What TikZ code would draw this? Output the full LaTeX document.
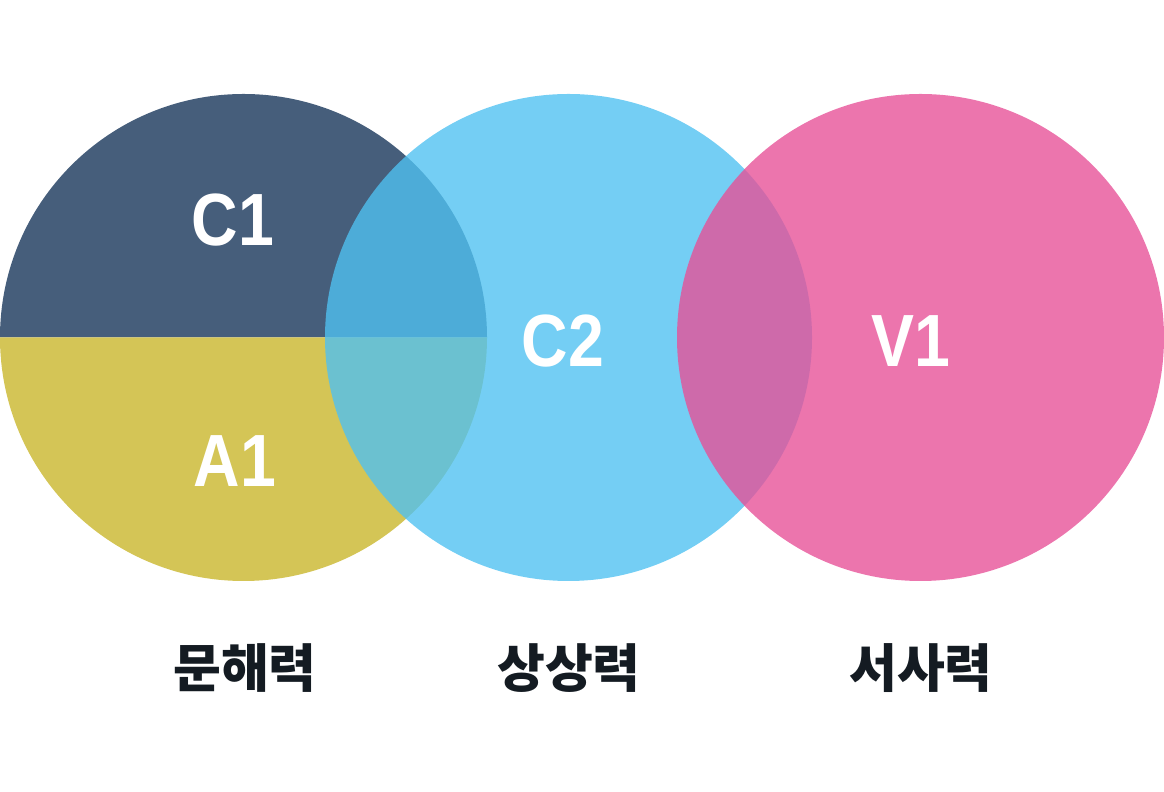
\documentclass[tikz,border=0pt]{standalone}
\usepackage{fontspec}
\setmainfont{Liberation Sans}
\newfontfamily\krfont{Noto Sans CJK KR}
\usepackage{tikz}
\definecolor{litnavy}{RGB}{70,94,123}
\definecolor{lityellow}{RGB}{212,197,86}
\definecolor{imagblue}{RGB}{79,193,241}
\definecolor{narrpink}{RGB}{231,80,151}
\definecolor{labelink}{RGB}{20,27,34}
\tikzset{
    code/.style={text=white, xscale=.87, font=\bfseries\fontsize{74}{74}\selectfont},
    skill/.style={text=labelink, font=\krfont\bfseries\fontsize{52}{52}\selectfont}
}

\begin{document}
\begin{tikzpicture}[x=1pt, y=1pt]
    \useasboundingbox(0, 0)rectangle(1164, 792);
    % left circle, split in two halves
    \fill[litnavy](0, 454.5)arc[start angle=180, end angle=0, radius=243.5]--cycle;
    \fill[lityellow](0, 454.5)arc[start angle=180, end angle=360, radius=243.5]--cycle;
    % middle and right circles
    \fill[imagblue, opacity=.79](568.5, 454.5)circle(243.5);
    \fill[narrpink, opacity=.79](920.5, 454.5)circle(243.5);
    \node[code](c1) at(233, 572){C1};
    \node[code](a1) at(235, 331){A1};
    \node[code](c2) at(563, 451){C2};
    \node[code](v1) at(911, 451){V1};
    \node[skill](lit) at(245, 124){문해력};
    \node[skill](imag) at(569, 124){상상력};
    \node[skill](narr) at(921, 124){서사력};
\end{tikzpicture}
\end{document}
